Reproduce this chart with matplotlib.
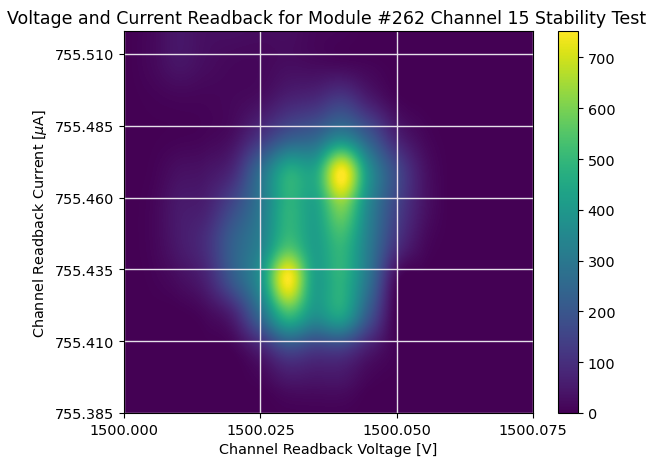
import numpy as np
import matplotlib
matplotlib.use('Agg')
import matplotlib.pyplot as plt

plt.rcParams['font.size'] = 10.4

# bin centres of the 2D histogram
voltage = [1500.000, 1500.005, 1500.010, 1500.015, 1500.020, 1500.025, 1500.030, 1500.035,
           1500.040, 1500.045, 1500.050, 1500.055, 1500.060, 1500.065, 1500.070, 1500.075]
current = [755.519, 755.5065, 755.494, 755.4815, 755.469, 755.4565, 755.444, 755.4315, 755.419, 755.4065, 755.394, 755.3815]

# counts, top row first
row_519 = [0, 15, 45, 30, 30, 25, 25, 12, 8, 0, 0, 0, 0, 0, 0, 0]
row_506 = [0, 15, 40, 25, 15, 15, 25, 20, 15, 8, 0, 0, 0, 0, 0, 0]
row_494 = [0, 5, 10, 10, 15, 30, 70, 90, 130, 60, 10, 0, 0, 0, 0, 0]
row_481 = [0, 2, 5, 10, 30, 110, 200, 240, 330, 210, 70, 15, 0, 0, 0, 0]
row_469 = [0, 5, 30, 40, 90, 270, 460, 450, 750, 380, 170, 40, 0, 0, 0, 0]
row_456 = [0, 10, 50, 70, 170, 300, 480, 430, 600, 340, 150, 40, 0, 0, 0, 0]
row_444 = [0, 10, 50, 100, 230, 330, 520, 420, 500, 310, 110, 20, 0, 0, 0, 0]
row_431 = [0, 5, 25, 70, 210, 380, 750, 430, 480, 280, 20, 0, 0, 0, 0, 0]
row_419 = [0, 0, 0, 15, 70, 260, 500, 380, 430, 200, 0, 0, 0, 0, 0, 0]
row_406 = [0, 0, 0, 0, 5, 60, 150, 120, 120, 50, 5, 0, 0, 0, 0, 0]
row_394 = [0, 0, 0, 0, 0, 5, 30, 30, 30, 5, 0, 0, 0, 0, 0, 0]
row_381 = [0, 0, 0, 0, 0, 0, 0, 0, 0, 0, 0, 0, 0, 0, 0, 0]
counts = [row_519, row_506, row_494, row_481, row_469, row_456, row_444, row_431, row_419, row_406, row_394, row_381]

x_ticks = [1500.000, 1500.025, 1500.050, 1500.075]
y_ticks = [755.385, 755.410, 755.435, 755.460, 755.485, 755.510]
cbar_ticks = [0, 100, 200, 300, 400, 500, 600, 700]

fig = plt.figure(figsize=(6.47, 4.6), dpi=100)
ax = fig.add_axes([124 / 647, 1 - 414 / 460, 409 / 647, 382 / 460])
cax = fig.add_axes([558 / 647, 1 - 414 / 460, 20 / 647, 382 / 460])

dx = voltage[1] - voltage[0]
dy = current[0] - current[1]
im = ax.imshow(np.array(counts), cmap='viridis', interpolation='catrom', aspect='auto', vmin=0, vmax=752,
               extent=[voltage[0] - dx / 2, voltage[-1] + dx / 2, current[-1] - dy / 2, current[0] + dy / 2])
ax.set_xlim(1500.000, 1500.075)
ax.set_ylim(755.385, 755.518)
ax.set_xticks(x_ticks)
ax.set_yticks(y_ticks)
ax.set_xticklabels(['%.3f' % v for v in x_ticks])
ax.set_yticklabels(['%.3f' % v for v in y_ticks])
ax.grid(True, color='#e6e0ea', linewidth=1)
ax.set_xlabel('Channel Readback Voltage [V]')
ax.set_ylabel(r'Channel Readback Current [$\mu$A]')
ax.set_title('Voltage and Current Readback for Module #262 Channel 15 Stability Test', fontsize=12.5, x=0.495)

cbar = fig.colorbar(im, cax=cax)
cbar.set_ticks(cbar_ticks)

plt.savefig('out.png', dpi=100)
